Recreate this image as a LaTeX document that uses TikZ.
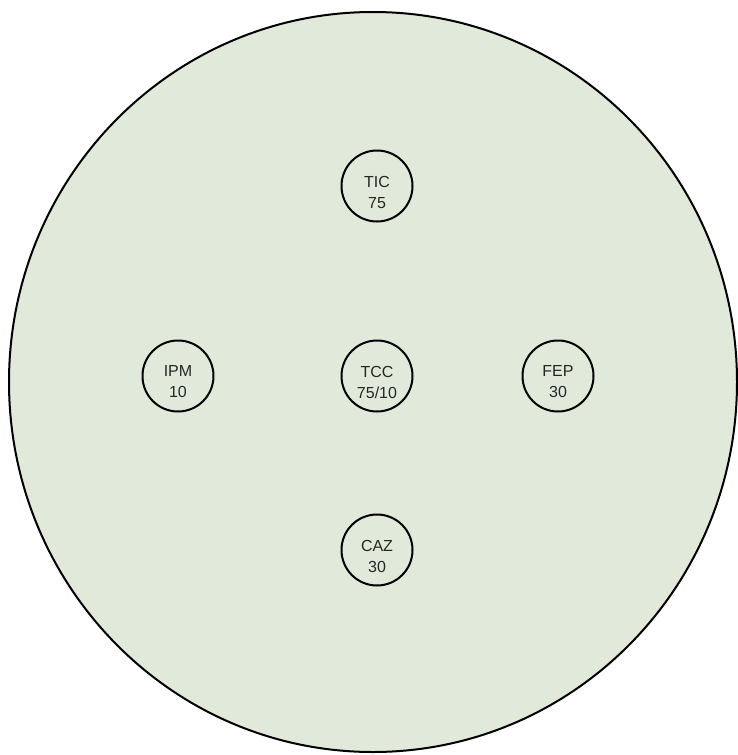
\documentclass[tikz,border=0pt]{standalone}
\usepackage{fontspec}
\setmainfont{Liberation Sans}
\definecolor{plate}{RGB}{225,234,218}
\begin{document}
\begin{tikzpicture}[x=1pt,y=-1pt,
  disc/.style={circle,draw=black,line width=2pt,fill=plate,minimum size=71pt,inner sep=0pt},
  disctext/.style={align=center,inner sep=0pt,font=\fontsize{16}{21}\selectfont,text=black!85,yshift=-6pt}]
\useasboundingbox (0,0) rectangle (738,755);
\draw[line width=2pt,fill=plate] (373,382) ellipse [x radius=364, y radius=370];
\node[disc,label={[disctext]center:TIC\\75}] (tic) at (377,186) {};
\node[disc,label={[disctext]center:IPM\\10}] (ipm) at (178,376) {};
\node[disc,label={[disctext]center:TCC\\75/10}] (tcc) at (377,376) {};
\node[disc,label={[disctext]center:FEP\\30}] (fep) at (558,376) {};
\node[disc,label={[disctext]center:CAZ\\30}] (caz) at (377,550) {};
\end{tikzpicture}
\end{document}
